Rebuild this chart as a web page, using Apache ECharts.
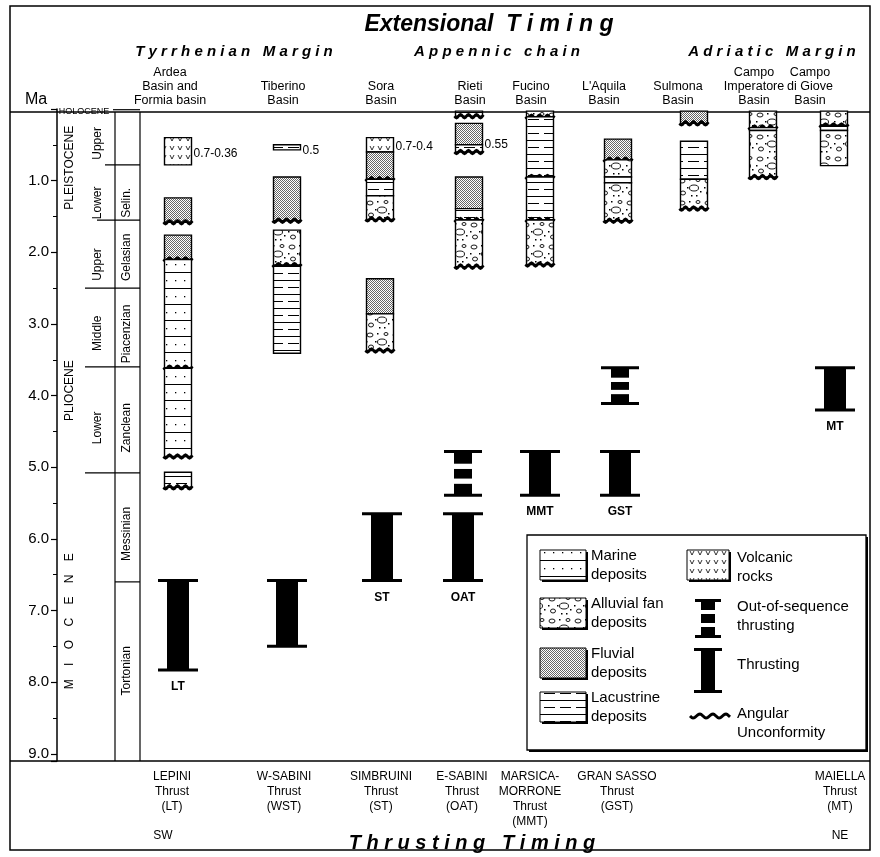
<!DOCTYPE html>
<html>
<head>
<meta charset="utf-8">
<script src="https://cdn.jsdelivr.net/npm/echarts@6/dist/echarts.min.js"></script>
<style>
  html, body { margin: 0; padding: 0; background: #fff; }
  #chart { width: 880px; height: 857px; }
</style>
</head>
<body>
<div id="chart"></div>
<script>
// ---- data ----
const basinNames = ['Ardea\nBasin and\nFormia basin', 'Tiberino\nBasin', 'Sora\nBasin', 'Rieti\nBasin',
  'Fucino\nBasin', "L'Aquila\nBasin", 'Sulmona\nBasin', 'Campo\nImperatore\nBasin', 'Campo\ndi Giove\nBasin'];

// deposits per basin: [top Ma, base Ma, facies, angular unconformity at base]
const ardea = [[0.40, 0.78, 'volcanic', 0], [1.24, 1.58, 'fluvial', 1], [1.76, 2.10, 'fluvial', 1],
  [2.10, 3.61, 'marine', 1], [3.61, 4.85, 'marine', 1], [5.07, 5.28, 'lacustrine', 1]];
const tiberino = [[0.50, 0.57, 'lacustrine', 0], [0.95, 1.56, 'fluvial', 1], [1.69, 2.18, 'alluvial', 1],
  [2.18, 3.41, 'lacustrine', 0]];
const sora = [[0.40, 0.60, 'volcanic', 0], [0.60, 0.98, 'fluvial', 1], [0.98, 1.21, 'lacustrine', 0],
  [1.21, 1.54, 'alluvial', 1], [2.37, 2.86, 'fluvial', 0], [2.86, 3.37, 'alluvial', 1]];
const rieti = [[0.03, 0.10, 'lacustrine', 1], [0.20, 0.50, 'fluvial', 0], [0.50, 0.60, 'lacustrine', 1],
  [0.95, 1.39, 'fluvial', 0], [1.39, 1.55, 'lacustrine', 1], [1.55, 2.20, 'alluvial', 1]];
const fucino = [[0.03, 0.11, 'alluvial', 1], [0.11, 0.95, 'lacustrine', 1], [0.95, 1.55, 'lacustrine', 1],
  [1.55, 2.17, 'alluvial', 1]];
const aquila = [[0.42, 0.71, 'fluvial', 1], [0.71, 0.95, 'alluvial', 0], [0.95, 1.03, 'lacustrine', 0],
  [1.03, 1.56, 'alluvial', 1]];
const sulmona = [[0.03, 0.20, 'fluvial', 1], [0.45, 0.98, 'lacustrine', 0], [0.98, 1.39, 'alluvial', 1]];
const campoImperatore = [[0.03, 0.26, 'alluvial', 1], [0.26, 0.30, 'lacustrine', 0], [0.30, 0.95, 'alluvial', 1]];
const campoGiove = [[0.03, 0.23, 'alluvial', 1], [0.23, 0.30, 'lacustrine', 0], [0.30, 0.79, 'alluvial', 0]];
const columns = [ardea, tiberino, sora, rieti, fucino, aquila, sulmona, campoImperatore, campoGiove];

// dated levels: [basin, Ma, text]
const ageNotes = [[0, 0.62, '0.7-0.36'], [1, 0.58, '0.5'], [2, 0.53, '0.7-0.4'], [3, 0.50, '0.55']];

// thrusts
const thrustNames = ['LEPINI\nThrust\n(LT)', 'W-SABINI\nThrust\n(WST)', 'SIMBRUINI\nThrust\n(ST)',
  'E-SABINI\nThrust\n(OAT)', 'MARSICA-\nMORRONE\nThrust\n(MMT)', 'GRAN SASSO\nThrust\n(GST)', 'MAIELLA\nThrust\n(MT)'];
const thrustCodes = ['LT', '', 'ST', 'OAT', 'MMT', 'GST', 'MT'];
// [thrust, top Ma, base Ma, out-of-sequence]
const thrusts = [[0, 6.58, 7.83, 0], [1, 6.58, 7.50, 0], [2, 5.65, 6.58, 0], [3, 5.65, 6.58, 0],
  [3, 4.78, 5.39, 1], [4, 4.78, 5.39, 0], [5, 4.78, 5.39, 0], [5, 3.61, 4.11, 1], [6, 3.61, 4.20, 0]];

// time scale
const epochs = [['PLEISTOCENE', 0.82], ['PLIOCENE', 3.93], ['M    I    O    C    E    N    E', 7.15]];
const subEpochs = [['Upper', 0.48], ['Lower', 1.31], ['Upper', 2.17], ['Middle', 3.13], ['Lower', 4.45]];
const stages = [['Selin.', 1.31], ['Gelasian', 2.07], ['Piacenzian', 3.14], ['Zanclean', 4.45],
  ['Messinian', 5.93], ['Tortonian', 7.84]];
const boundaries = [0.01, 0.78, 1.55, 2.5, 3.6, 5.08, 6.6];

// ---- layout ----
const colX = [178, 287, 380, 469, 540, 618, 694, 763, 834];
const labelX = [170, 283, 381, 470, 531, 604, 678, 754, 810];
const thrustX = [178, 287, 382, 463, 540, 620, 835];
const thrustLabelX = [172, 284, 381, 462, 530, 617, 840];
const boundaryX1 = [113, 105, 97, 85, 85, 85, 115];
const BOX_W = 27;
const FONT = "'Liberation Sans', Arial, sans-serif";

// ---- fill patterns ----
function makeCanvas(w, h, draw) {
  const c = document.createElement('canvas');
  c.width = w; c.height = h;
  const ctx = c.getContext('2d');
  ctx.fillStyle = '#fff';
  ctx.fillRect(0, 0, w, h);
  ctx.fillStyle = '#000';
  ctx.strokeStyle = '#000';
  draw(ctx);
  return { image: c, repeat: 'repeat' };
}
const patterns = {
  fluvial: makeCanvas(2, 2, (ctx) => {
    ctx.fillStyle = '#666';
    ctx.fillRect(0, 0, 1, 1);
    ctx.fillRect(1, 1, 1, 1);
  }),
  marine: makeCanvas(9, 16, (ctx) => {
    ctx.fillRect(0, 0, 9, 1);
    ctx.fillRect(4, 8, 1.3, 1.3);
  }),
  lacustrine: makeCanvas(16, 14, (ctx) => {
    ctx.fillRect(0, 0, 16, 1);
    ctx.fillRect(0, 7, 11, 1);
  }),
  volcanic: makeCanvas(8, 9, (ctx) => {
    ctx.lineWidth = 0.8;
    ctx.beginPath();
    ctx.moveTo(2, 2); ctx.lineTo(4, 6); ctx.lineTo(6, 2);
    ctx.stroke();
  }),
  alluvial: makeCanvas(26, 22, (ctx) => {
    ctx.lineWidth = 0.9;
    [[6, 5, 3, 2], [18, 12, 4.5, 3], [7, 17, 2.5, 2], [22, 4, 2, 1.5]].forEach(([x, y, rx, ry]) => {
      ctx.beginPath();
      ctx.ellipse(x, y, rx, ry, 0, 0, Math.PI * 2);
      ctx.stroke();
    });
    [[13, 3], [2, 11], [11, 11], [20, 19], [15, 19], [24, 15]].forEach(([x, y]) => ctx.fillRect(x, y, 1.5, 1.5));
  })
};

function wavePoints(x1, x2, y, amp, period) {
  const pts = [];
  for (let x = x1; x <= x2 + 0.01; x += 1) {
    pts.push([x, y + amp * Math.sin((x - x1) / period * Math.PI * 2)]);
  }
  return pts;
}

// flatten deposits for the custom series
const depositData = [];
columns.forEach((col, ci) => col.forEach((d) => depositData.push([ci, d[0], d[1], d[2], d[3]])));

function renderDeposit(params, api) {
  const d = depositData[params.dataIndex];
  const x = colX[d[0]];
  const p1 = api.coord([x - BOX_W / 2, d[1]]);
  const p2 = api.coord([x + BOX_W / 2, d[2]]);
  const children = [{
    type: 'rect',
    shape: { x: p1[0], y: p1[1], width: p2[0] - p1[0], height: p2[1] - p1[1] },
    style: { fill: patterns[d[3]], stroke: '#000', lineWidth: 1.4 }
  }];
  if (d[4]) {
    children.push({
      type: 'polyline',
      shape: { points: wavePoints(p1[0] - 1, p2[0] + 1, p2[1], 1.7, 8) },
      style: { fill: null, stroke: '#000', lineWidth: 2.8 }
    });
  }
  return { type: 'group', children };
}

function renderThrust(params, api) {
  const t = thrusts[params.dataIndex];
  const x = thrustX[t[0]];
  const yt = api.coord([x, t[1]])[1];
  const yb = api.coord([x, t[2]])[1];
  const children = [];
  const fw = t[3] ? 19 : 20;
  const bw = t[3] ? 9 : 11;
  children.push({ type: 'rect', shape: { x: x - fw, y: yt - 1.5, width: fw * 2, height: 3 }, style: { fill: '#000' } });
  children.push({ type: 'rect', shape: { x: x - fw, y: yb - 1.5, width: fw * 2, height: 3 }, style: { fill: '#000' } });
  if (t[3]) {
    const h = yb - yt;
    [[0, 0.28], [0.4, 0.62], [0.74, 1]].forEach(([a, b]) => {
      children.push({ type: 'rect', shape: { x: x - bw, y: yt + a * h, width: bw * 2, height: (b - a) * h }, style: { fill: '#000' } });
    });
  } else {
    children.push({ type: 'rect', shape: { x: x - bw, y: yt, width: bw * 2, height: yb - yt }, style: { fill: '#000' } });
    const code = thrustCodes[t[0]];
    if (code) {
      children.push({
        type: 'text', x: x, y: yb + 17,
        style: { text: code, font: 'bold 12px ' + FONT, fill: '#000', align: 'center', verticalAlign: 'middle' }
      });
    }
  }
  return { type: 'group', children };
}

function renderNote(params, api) {
  const n = ageNotes[params.dataIndex];
  const p = api.coord([colX[n[0]] + BOX_W / 2 + 2, n[1]]);
  return {
    type: 'text', x: p[0], y: p[1],
    style: { text: n[2], font: '12px ' + FONT, fill: '#000', align: 'left', verticalAlign: 'middle' }
  };
}

function rotatedText(api, x, ma, text, size) {
  const p = api.coord([x, ma]);
  return {
    type: 'text', x: p[0], y: p[1], rotation: Math.PI / 2,
    style: { text, font: size + 'px ' + FONT, fill: '#000', align: 'center', verticalAlign: 'middle' }
  };
}

const scaleData = [];
epochs.forEach((e) => scaleData.push(['epoch', e[0], e[1]]));
subEpochs.forEach((e) => scaleData.push(['sub', e[0], e[1]]));
stages.forEach((e) => scaleData.push(['stage', e[0], e[1]]));
boundaries.forEach((b, i) => scaleData.push(['line', i, b]));

function renderScale(params, api) {
  const s = scaleData[params.dataIndex];
  if (s[0] === 'epoch') return rotatedText(api, 70, s[2], s[1], 12);
  if (s[0] === 'sub') return rotatedText(api, 98, s[2], s[1], 12);
  if (s[0] === 'stage') return rotatedText(api, 127, s[2], s[1], 12);
  const p1 = api.coord([boundaryX1[s[1]], s[2]]);
  const p2 = api.coord([140, s[2]]);
  const line = { type: 'line', shape: { x1: p1[0], y1: p1[1], x2: p2[0], y2: p2[1] }, style: { stroke: '#000', lineWidth: 1.2 } };
  if (s[1] !== 0) return line;
  return {
    type: 'group', children: [line, {
      type: 'text', x: 84, y: p1[1] + 2,
      style: { text: 'HOLOCENE', font: '9px ' + FONT, fill: '#000', align: 'center', verticalAlign: 'middle' }
    }]
  };
}

// ---- static decorations (frame, headings, legend) ----
const graphics = [
  { type: 'rect', shape: { x: 10, y: 6, width: 860, height: 844 }, style: { fill: null, stroke: '#000', lineWidth: 1.5 } },
  { type: 'line', shape: { x1: 10, y1: 112, x2: 870, y2: 112 }, style: { stroke: '#000', lineWidth: 1.5 } },
  { type: 'line', shape: { x1: 10, y1: 761, x2: 870, y2: 761 }, style: { stroke: '#000', lineWidth: 1.5 } },
  { type: 'line', shape: { x1: 115, y1: 112, x2: 115, y2: 761 }, style: { stroke: '#000', lineWidth: 1.2 } },
  { type: 'line', shape: { x1: 140, y1: 112, x2: 140, y2: 761 }, style: { stroke: '#000', lineWidth: 1.2 } },
  { type: 'text', x: 489, y: 25, style: { text: 'Extensional  T i m i n g', font: 'italic bold 23px ' + FONT, fill: '#000', align: 'center', verticalAlign: 'middle' } },
  { type: 'text', x: 234, y: 52, style: { text: 'T y r r h e n i a n   M a r g i n', font: 'italic bold 15px ' + FONT, fill: '#000', align: 'center', verticalAlign: 'middle' } },
  { type: 'text', x: 497, y: 52, style: { text: 'A p p e n n i c   c h a i n', font: 'italic bold 15px ' + FONT, fill: '#000', align: 'center', verticalAlign: 'middle' } },
  { type: 'text', x: 772, y: 52, style: { text: 'A d r i a t i c   M a r g i n', font: 'italic bold 15px ' + FONT, fill: '#000', align: 'center', verticalAlign: 'middle' } },
  { type: 'text', x: 36, y: 100, style: { text: 'Ma', font: '16px ' + FONT, fill: '#000', align: 'center', verticalAlign: 'middle' } },
  { type: 'text', x: 163, y: 836, style: { text: 'SW', font: '12px ' + FONT, fill: '#000', align: 'center', verticalAlign: 'middle' } },
  { type: 'text', x: 840, y: 836, style: { text: 'NE', font: '12px ' + FONT, fill: '#000', align: 'center', verticalAlign: 'middle' } },
  { type: 'text', x: 472, y: 843, style: { text: 'T h r u s t i n g   T i m i n g', font: 'italic bold 20px ' + FONT, fill: '#000', align: 'center', verticalAlign: 'middle' } }
];
basinNames.forEach((n, i) => graphics.push({
  type: 'text', x: labelX[i], y: 108,
  style: { text: n, font: '12.5px ' + FONT, lineHeight: 14, fill: '#000', align: 'center', verticalAlign: 'bottom' }
}));
thrustNames.forEach((n, i) => graphics.push({
  type: 'text', x: thrustLabelX[i], y: 769,
  style: { text: n, font: '12px ' + FONT, lineHeight: 15, fill: '#000', align: 'center', verticalAlign: 'top' }
}));

// legend
const legendItems = [['marine', 'Marine\ndeposits', 550], ['alluvial', 'Alluvial fan\ndeposits', 598],
  ['fluvial', 'Fluvial\ndeposits', 648], ['lacustrine', 'Lacustrine\ndeposits', 692]];
graphics.push({ type: 'rect', shape: { x: 529, y: 537, width: 339, height: 215 }, style: { fill: '#000' } });
graphics.push({ type: 'rect', shape: { x: 527, y: 535, width: 339, height: 215 }, style: { fill: '#fff', stroke: '#000', lineWidth: 1.3 } });
function swatch(x, y, w, h, fill) {
  graphics.push({ type: 'rect', shape: { x: x + 2, y: y + 2, width: w, height: h }, style: { fill: '#000' } });
  graphics.push({ type: 'rect', shape: { x, y, width: w, height: h }, style: { fill, stroke: '#000', lineWidth: 1 } });
}
function legendText(x, y, text) {
  graphics.push({ type: 'text', x, y, style: { text, font: '15px ' + FONT, lineHeight: 19, fill: '#000', align: 'left', verticalAlign: 'middle' } });
}
legendItems.forEach(([f, t, y]) => { swatch(540, y, 46, 30, patterns[f]); legendText(591, y + 15, t); });
swatch(687, 550, 42, 30, patterns.volcanic);
legendText(737, 567, 'Volcanic\nrocks');
// out-of-sequence symbol
graphics.push({ type: 'rect', shape: { x: 695, y: 599, width: 26, height: 3 }, style: { fill: '#000' } });
graphics.push({ type: 'rect', shape: { x: 695, y: 635, width: 26, height: 3 }, style: { fill: '#000' } });
[[600, 610], [614, 623], [627, 637]].forEach(([a, b]) => graphics.push({ type: 'rect', shape: { x: 701, y: a, width: 14, height: b - a }, style: { fill: '#000' } }));
legendText(737, 616, 'Out-of-sequence\nthrusting');
// thrust symbol
graphics.push({ type: 'rect', shape: { x: 694, y: 648, width: 28, height: 3 }, style: { fill: '#000' } });
graphics.push({ type: 'rect', shape: { x: 694, y: 690, width: 28, height: 3 }, style: { fill: '#000' } });
graphics.push({ type: 'rect', shape: { x: 701, y: 648, width: 14, height: 45 }, style: { fill: '#000' } });
legendText(737, 665, 'Thrusting');
graphics.push({ type: 'polyline', shape: { points: wavePoints(690, 730, 716, 2, 13) }, style: { fill: null, stroke: '#000', lineWidth: 3 } });
legendText(737, 723, 'Angular\nUnconformity');

// ---- chart ----
const chart = echarts.init(document.getElementById('chart'), null, { renderer: 'canvas' });
chart.setOption({
  animation: false,
  backgroundColor: '#fff',
  textStyle: { fontFamily: FONT },
  grid: { left: 57, right: 10, top: 109, bottom: 96 },
  xAxis: { type: 'value', min: 57, max: 870, show: false },
  yAxis: {
    type: 'value', inverse: true, min: 0, max: 9.1, interval: 1,
    axisLine: { show: true, lineStyle: { color: '#000', width: 1.5 } },
    axisTick: { show: true, length: 6, lineStyle: { color: '#000', width: 1.2 } },
    minorTick: { show: true, splitNumber: 2, length: 4, lineStyle: { color: '#000', width: 1 } },
    splitLine: { show: false },
    axisLabel: {
      color: '#000', fontSize: 15, margin: 8, showMaxLabel: false,
      formatter: (v) => (v > 0 && Math.abs(v - Math.round(v)) < 1e-6 ? v.toFixed(1) : '')
    }
  },
  series: [
    { type: 'custom', name: 'timescale', data: scaleData.map((s) => [0, s[2]]), renderItem: renderScale, silent: true },
    { type: 'custom', name: 'deposits', data: depositData.map((d) => [d[0], d[1], d[2]]), renderItem: renderDeposit, silent: true },
    { type: 'custom', name: 'notes', data: ageNotes.map((n) => [n[0], n[1]]), renderItem: renderNote, silent: true },
    { type: 'custom', name: 'thrusts', data: thrusts.map((t) => [t[0], t[1], t[2]]), renderItem: renderThrust, silent: true }
  ],
  graphic: graphics
});
</script>
</body>
</html>
